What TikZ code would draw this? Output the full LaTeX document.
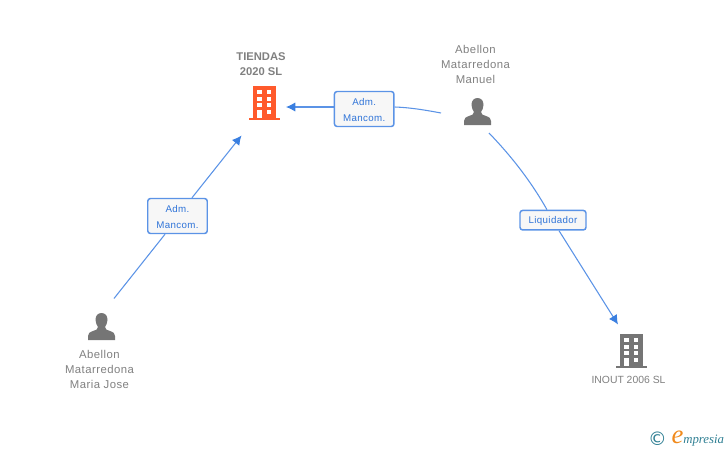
\documentclass[tikz,border=0pt]{standalone}
\usepackage{fontspec}
\setmainfont{Liberation Sans}
\newfontfamily\spacedfont[LetterSpace=4]{Liberation Sans}
\newfontfamily\logofont{Liberation Serif}
\newfontfamily\symbfont{DejaVu Sans}
\usetikzlibrary{arrows.meta}

\definecolor{linkblue}{HTML}{5B93E6}
\definecolor{tipblue}{HTML}{3A7FE0}
\definecolor{rolblue}{HTML}{2F74D8}
\definecolor{icongrey}{HTML}{757575}
\definecolor{textgrey}{HTML}{808080}
\definecolor{redbuild}{HTML}{FF5A2C}
\definecolor{logoteal}{HTML}{2F7F93}
\definecolor{logoorange}{HTML}{F08A1D}

\tikzset{every picture/.style={line width=0.75pt}}
\tikzset{
  link/.style={draw=linkblue,line width=0.8pt},
  linkarrow/.style={link,-{Latex[length=7pt,width=7pt,color=tipblue]}},
  rolebox/.style={draw=linkblue,line width=1.1pt,rounded corners=2pt,fill=white!97!black,
    text=rolblue,font=\spacedfont\fontsize{7.3}{11.6}\selectfont,align=center,inner sep=0pt},
  nametext/.style={text=textgrey,font=\spacedfont\fontsize{8.5}{11.25}\selectfont,align=center,inner sep=0pt}
}

\newcommand{\rolestrut}{\rule{0pt}{7pt}}
\newcommand{\buildingicon}[3]{%
  \begin{scope}[shift={(#1,#2)}]
    \fill[#3] (0,0) rectangle (23,32);
    \fill[#3] (-4.5,32) rectangle (27,34);
    \foreach \yy in {4,10.5,17}
      \foreach \xx in {4,13.5}
        \fill[white] (\xx,\yy) rectangle ++(4.5,4.2);
    \fill[white] (4,23.5) rectangle (8.5,32);
    \fill[white] (13.5,23.5) rectangle (18,28);
  \end{scope}}
\newcommand{\personicon}[3]{%
  \begin{scope}[shift={(#1,#2)}]
    \fill[#3] (13.5,0) .. controls (17.5,0) and (19.5,3) .. (19.5,7)
      .. controls (19.5,10) and (18,12.5) .. (17,14) .. controls (17,16.5) and (19,17) .. (22,18)
      .. controls (25.5,19.2) and (27,20.5) .. (27,23) -- (27,27) -- (0,27) -- (0,23)
      .. controls (0,20.5) and (1.5,19.2) .. (5,18) .. controls (8,17) and (10,16.5) .. (10,14)
      .. controls (9,12.5) and (7.5,10) .. (7.5,7) .. controls (7.5,3) and (9.5,0) .. (13.5,0) -- cycle;
  \end{scope}}

\begin{document}
\begin{tikzpicture}[x=0.75pt,y=0.75pt,yscale=-1,xscale=1]
\useasboundingbox (0,0) rectangle (728,450);

%Icons
\buildingicon{253}{86}{redbuild}
\buildingicon{620}{334}{icongrey}
\personicon{464}{98}{icongrey}
\personicon{88}{313}{icongrey}

%Names
\node[nametext,font=\bfseries\fontsize{8.4}{11.25}\selectfont] (tiendas) at (261,64.5) {TIENDAS\\2020 SL};
\node[nametext] (manuel) at (475.5,64) {Abellon\\Matarredona\\Manuel};
\node[nametext] (mariajose) at (99.5,369) {Abellon\\Matarredona\\Maria Jose};
\node[nametext,font=\fontsize{7.8}{11}\selectfont] (inout) at (628.5,380) {INOUT 2006 SL};

%Roles
\node[rolebox,minimum width=59.5pt*0.75,minimum height=35pt*0.75] (manuelrol) at (364.2,109) {\rolestrut Adm.\\Mancom.};
\node[rolebox,minimum width=59.5pt*0.75,minimum height=35pt*0.75] (mariarol) at (177.5,216) {\rolestrut Adm.\\Mancom.};
\node[rolebox,minimum width=66pt*0.75,minimum height=19.5pt*0.75] (liquidrol) at (553,220.2) {\rolestrut Liquidador};

%Free ends
\coordinate (manuelstart) at (441,113);
\coordinate (tiendastip) at (286,107);
\coordinate (mariastart) at (114,298.5);
\coordinate (tiendastipb) at (241.5,135.5);
\coordinate (liquidstart) at (489,133);
\coordinate (inouttip) at (618,324.5);

%Connectors
\draw[link] (manuelstart) .. controls (425,110) and (410,107.5) .. (manuelrol.east |- 0,107);
\draw[linkarrow] (manuelrol.west |- 0,107) -- (tiendastip);
\draw[link] (mariastart) -- (mariarol.south -| 165,0);
\draw[linkarrow] (mariarol.north -| 192,0) -- (tiendastipb);
\draw[link] (liquidstart) .. controls (515,160) and (533,185) .. (liquidrol.north -| 547,0);
\draw[linkarrow] (liquidrol.south -| 559,0) -- (inouttip);

%Logo
\node[text=logoteal,inner sep=0pt,font=\symbfont\fontsize{14}{14}\selectfont] (copyr) at (657.5,438.5) {©};
\node[anchor=west,inner sep=0pt,font=\logofont\itshape\fontsize{9.6}{9.6}\selectfont,text=logoteal] (logo) at (671,439)
  {\textcolor{logoorange}{\fontsize{20}{20}\selectfont e}mpresia};

\end{tikzpicture}
\end{document}
